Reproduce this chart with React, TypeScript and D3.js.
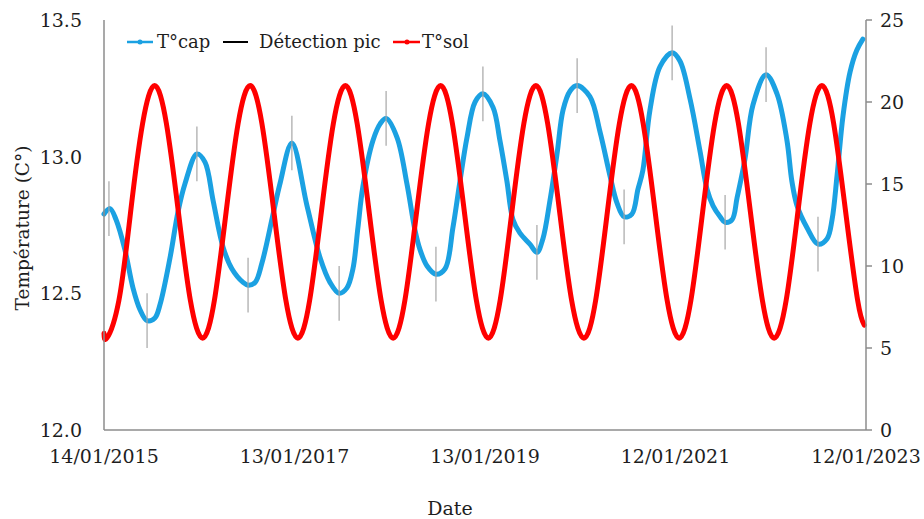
import React from "react";
import * as d3 from "d3";

// ---------- DATA ----------
const seriesNames = ["T°cap", "Détection pic", "T°sol"];

const capDates = [
  "2015-01-14", "2015-02-06", "2015-03-01", "2015-04-04", "2015-05-05", "2015-06-01", "2015-06-28",
  "2015-07-28", "2015-08-17", "2015-09-24", "2015-10-25", "2015-11-20", "2016-01-05", "2016-02-05",
  "2016-03-07", "2016-04-14", "2016-05-18", "2016-06-30", "2016-07-19", "2016-08-15", "2016-09-10",
  "2016-10-23", "2016-11-18", "2017-01-03", "2017-03-02", "2017-04-21", "2017-05-29",
  "2017-07-03", "2017-08-02", "2017-08-25", "2017-09-13", "2017-10-02", "2017-11-10", "2017-12-07",
  "2017-12-30", "2018-02-10", "2018-03-20", "2018-04-20", "2018-05-09", "2018-06-05", "2018-07-09",
  "2018-08-13", "2018-09-12", "2018-10-09", "2018-11-05", "2018-12-06", "2019-01-05", "2019-02-13",
  "2019-03-11", "2019-04-07", "2019-04-30", "2019-05-27", "2019-07-04", "2019-07-31", "2019-08-23",
  "2019-09-19", "2019-10-16", "2019-11-08", "2019-12-05", "2020-01-01", "2020-02-19", "2020-03-29",
  "2020-05-06", "2020-06-02", "2020-06-29", "2020-07-29", "2020-08-21", "2020-09-09", "2020-10-06",
  "2020-11-14", "2020-12-30", "2021-01-29", "2021-03-09", "2021-04-16", "2021-05-13", "2021-06-05",
  "2021-07-02", "2021-07-21", "2021-08-17", "2021-09-05", "2021-10-05", "2021-11-05", "2021-12-25",
  "2022-02-05", "2022-03-15", "2022-04-03", "2022-04-23", "2022-05-31", "2022-07-12", "2022-08-16",
  "2022-09-04", "2022-09-23", "2022-10-16", "2022-11-12", "2022-12-08", "2022-12-31",
];
const capValues = [
  12.79, 12.81, 12.77, 12.66, 12.52, 12.44, 12.40,
  12.41, 12.46, 12.63, 12.80, 12.90, 13.01, 12.98,
  12.84, 12.67, 12.59, 12.54, 12.53, 12.54, 12.61,
  12.79, 12.90, 13.05, 12.82, 12.63, 12.54,
  12.50, 12.52, 12.59, 12.74, 12.89, 13.06, 13.12,
  13.14, 13.07, 12.90, 12.73, 12.66, 12.60, 12.57,
  12.59, 12.74, 12.91, 13.07, 13.20, 13.23, 13.18,
  13.06, 12.91, 12.77, 12.72, 12.68, 12.65, 12.70,
  12.84, 13.01, 13.17, 13.24, 13.26, 13.22, 13.09,
  12.93, 12.83, 12.78, 12.79, 12.88, 12.95, 13.17,
  13.33, 13.38, 13.35, 13.21, 13.02, 12.88, 12.82,
  12.78, 12.76, 12.77, 12.85, 12.99, 13.19, 13.30,
  13.23, 13.06, 12.91, 12.82, 12.74, 12.68, 12.70,
  12.77, 12.93, 13.15, 13.31, 13.39, 13.43,
];

const errDates = [
  "2015-02-02", "2015-06-28", "2016-01-05", "2016-07-19", "2017-01-03", "2017-07-03", "2017-12-30",
  "2018-07-09", "2019-01-05", "2019-07-31", "2020-01-01", "2020-06-29", "2020-12-30", "2021-07-21",
  "2021-12-25", "2022-07-12",
];
const errCenters = [
  12.81, 12.40, 13.01, 12.53, 13.05, 12.50, 13.14,
  12.57, 13.23, 12.65, 13.26, 12.78, 13.38, 12.76,
  13.30, 12.68,
];
const errSizes = [
  0.1, 0.1, 0.1, 0.1, 0.1, 0.1, 0.1,
  0.1, 0.1, 0.1, 0.1, 0.1, 0.1, 0.1,
  0.1, 0.1,
];

const solDates = [
  "2015-01-14", "2015-01-25", "2015-03-12", "2015-04-26", "2015-06-11", "2015-07-27", "2015-09-10", "2015-10-26", "2015-12-11",
  "2016-01-27", "2016-03-12", "2016-04-26", "2016-06-11", "2016-07-27", "2016-09-10", "2016-10-26", "2016-12-11",
  "2017-01-26", "2017-03-12", "2017-04-26", "2017-06-11", "2017-07-27", "2017-09-10", "2017-10-26", "2017-12-11",
  "2018-01-26", "2018-03-12", "2018-04-26", "2018-06-11", "2018-07-27", "2018-09-10", "2018-10-26", "2018-12-11",
  "2019-01-26", "2019-03-12", "2019-04-26", "2019-06-11", "2019-07-27", "2019-09-10", "2019-10-26", "2019-12-11",
  "2020-01-27", "2020-03-12", "2020-04-26", "2020-06-11", "2020-07-27", "2020-09-10", "2020-10-26", "2020-12-11",
  "2021-01-26", "2021-03-12", "2021-04-26", "2021-06-11", "2021-07-27", "2021-09-10", "2021-10-26", "2021-12-11",
  "2022-01-25", "2022-03-12", "2022-04-26", "2022-06-11", "2022-07-27", "2022-09-10", "2022-10-26", "2022-12-11",
  "2023-01-05",
];
const solValues = [
  5.9, 5.6, 7.9, 13.3, 18.7, 21.0, 18.7, 13.3, 7.9,
  5.6, 7.9, 13.3, 18.7, 21.0, 18.7, 13.3, 7.9,
  5.6, 7.9, 13.3, 18.7, 21.0, 18.7, 13.3, 7.9,
  5.6, 7.9, 13.3, 18.7, 21.0, 18.7, 13.3, 7.9,
  5.6, 7.9, 13.3, 18.7, 21.0, 18.7, 13.3, 7.9,
  5.6, 7.9, 13.3, 18.7, 21.0, 18.7, 13.3, 7.9,
  5.6, 7.9, 13.3, 18.7, 21.0, 18.7, 13.3, 7.9,
  5.6, 7.9, 13.3, 18.7, 21.0, 18.7, 13.3, 7.9,
  6.4,
];

const xTickLabels = ["14/01/2015", "13/01/2017", "13/01/2019", "12/01/2021", "12/01/2023"];
const leftTicks = [12.0, 12.5, 13.0, 13.5];
const rightTicks = [0, 5, 10, 15, 20, 25];

// ---------- LAYOUT ----------
const W = 924;
const H = 519;
const M = { left: 104, right: 866, top: 20, bottom: 430 };
const FONT = "'DejaVu Serif', serif";
const BLUE = "#1BA1E2";
const RED = "#FF0000";
const AXIS = "#8c8c8c";
const TEXT = "#1e1e1e";

const parseISO = d3.timeParse("%Y-%m-%d");
const parseFR = d3.timeParse("%d/%m/%Y");

export default function App() {
  const tickDates = xTickLabels.map((s) => parseFR(s) as Date);
  const x = d3.scaleTime().domain([tickDates[0], tickDates[tickDates.length - 1]]).range([M.left, M.right]);
  const yL = d3.scaleLinear().domain([12, 13.5]).range([M.bottom, M.top]);
  const yR = d3.scaleLinear().domain([0, 25]).range([M.bottom, M.top]);

  const cap = capDates.map((d, i) => ({ d: parseISO(d) as Date, v: capValues[i] }));
  const sol = solDates.map((d, i) => ({ d: parseISO(d) as Date, v: solValues[i] }));
  const errs = errDates.map((d, i) => ({ d: parseISO(d) as Date, v: errCenters[i], e: errSizes[i] }));

  const capLine = d3
    .line<{ d: Date; v: number }>()
    .x((p) => x(p.d))
    .y((p) => yL(p.v))
    .curve(d3.curveCatmullRom.alpha(0.5));
  const solLine = d3
    .line<{ d: Date; v: number }>()
    .x((p) => x(p.d))
    .y((p) => yR(p.v))
    .curve(d3.curveNatural);

  const legendY = 42;

  return (
    <div style={{ position: "fixed", left: 0, top: 0 }}>
      <svg width={W} height={H} style={{ display: "block", background: "#fff" }} fontFamily={FONT}>
        <rect x={0} y={0} width={W} height={H} fill="#fff" />

        {/* series */}
        <path d={capLine(cap) || ""} fill="none" stroke={BLUE} strokeWidth={5} strokeLinejoin="round" strokeLinecap="round" />
        {errs.map((p, i) => (
          <line
            key={"e" + i}
            x1={x(p.d)}
            x2={x(p.d)}
            y1={yL(p.v - p.e)}
            y2={yL(p.v + p.e)}
            stroke="#a6a6a6"
            strokeWidth={1.2}
          />
        ))}
        <path d={solLine(sol) || ""} fill="none" stroke={RED} strokeWidth={5} strokeLinejoin="round" strokeLinecap="round" />

        {/* axes */}
        <line x1={M.left} x2={M.left} y1={M.top} y2={M.bottom} stroke={AXIS} strokeWidth={1.5} />
        <line x1={M.left} x2={M.right} y1={M.bottom} y2={M.bottom} stroke={AXIS} strokeWidth={1.5} />
        <line x1={M.right} x2={M.right} y1={M.top} y2={M.bottom} stroke={AXIS} strokeWidth={1.5} />
        {rightTicks.map((t) => (
          <g key={"r" + t}>
            <line x1={M.right} x2={M.right + 6} y1={yR(t)} y2={yR(t)} stroke={AXIS} strokeWidth={1.5} />
            <text x={M.right + 14} y={yR(t)} dy="0.36em" fontSize={19} fill={TEXT}>
              {t}
            </text>
          </g>
        ))}
        {leftTicks.map((t) => (
          <text key={"l" + t} x={82} y={yL(t)} dy="0.36em" fontSize={19} fill={TEXT} textAnchor="end">
            {d3.format(".1f")(t)}
          </text>
        ))}
        {tickDates.map((d, i) => (
          <text key={"x" + i} x={x(d)} y={463} fontSize={19} fill={TEXT} textAnchor="middle">
            {xTickLabels[i]}
          </text>
        ))}

        {/* titles */}
        <text x={450} y={515} fontSize={19} fill={TEXT} textAnchor="middle">
          Date
        </text>
        <text
          transform={`translate(29, ${(M.top + M.bottom) / 2 + 3}) rotate(-90)`}
          fontSize={18.5}
          fill={TEXT}
          textAnchor="middle"
        >
          Température (C°)
        </text>

        {/* legend */}
        <line x1={127} x2={153} y1={legendY} y2={legendY} stroke={BLUE} strokeWidth={2.5} />
        <circle cx={140} cy={legendY} r={2.5} fill={BLUE} />
        <text x={157} y={legendY} dy="0.36em" fontSize={18} fill={TEXT}>
          {seriesNames[0]}
        </text>
        <line x1={223} x2={248} y1={legendY} y2={legendY} stroke="#000" strokeWidth={2} />
        <text x={259} y={legendY} dy="0.36em" fontSize={18} fill={TEXT}>
          {seriesNames[1]}
        </text>
        <line x1={393} x2={420} y1={legendY} y2={legendY} stroke={RED} strokeWidth={2.5} />
        <circle cx={407} cy={legendY} r={2.5} fill={RED} />
        <text x={422} y={legendY} dy="0.36em" fontSize={18} fill={TEXT}>
          {seriesNames[2]}
        </text>
      </svg>
    </div>
  );
}
